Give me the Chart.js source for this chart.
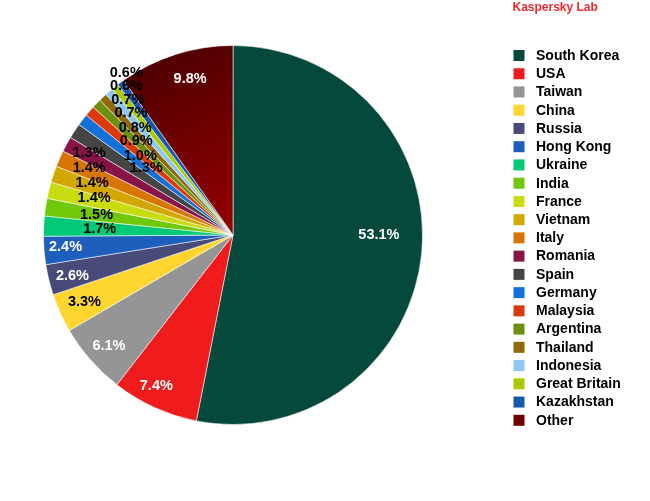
<!DOCTYPE html>
<html>
<head>
<meta charset="utf-8">
<script src="https://cdn.jsdelivr.net/npm/chart.js@4"></script>
<style>
  html, body { margin: 0; padding: 0; background: #fff; }
  #wrap { width: 650px; height: 501px; }
</style>
</head>
<body>
<div id="wrap"><canvas id="pie"></canvas></div>
<script>
// data
const countries = ['South Korea', 'USA', 'Taiwan', 'China', 'Russia', 'Hong Kong', 'Ukraine', 'India',
  'France', 'Vietnam', 'Italy', 'Romania', 'Spain', 'Germany', 'Malaysia', 'Argentina', 'Thailand',
  'Indonesia', 'Great Britain', 'Kazakhstan', 'Other'];
const shares = [53.1, 7.4, 6.1, 3.3, 2.6, 2.4, 1.7, 1.5, 1.4, 1.4, 1.4, 1.3, 1.3, 1.0, 0.9, 0.8, 0.7,
  0.7, 0.6, 0.6, 9.8];
const titleText = 'Kaspersky Lab';

// colours of the slices
const sliceColors = ['#05493c', '#f01b1c', '#959595', '#fed62f', '#484a7a', '#1e5fbe', '#02c977',
  '#71c80a', '#c9dc10', '#d1a700', '#d77500', '#881349', '#454545', '#1270d8', '#dc3a0b', '#6c8f0e',
  '#906a08', '#8fc6f2', '#a9c900', '#1659ad', '#700000'];
// labels that sit on a light slice use black text
const darkText = [false, false, false, true, false, false, true, true, true, true, true, true, true,
  true, true, true, true, true, true, true, false];

const FONT = '"Liberation Sans", Arial, sans-serif';

// where each percent label sits: part of the radius, and a small turn in degrees (Excel moved them apart)
const labelRadius = [0.77, 0.895, 0.88, 0.86, 0.875, 0.886, 0.704, 0.728, 0.758, 0.792, 0.837, 0.874,
  0.58, 0.644, 0.711, 0.764, 0.838, 0.905, 0.968, 1.024, 0.855];
const labelTurn = [-5.4, 2.4, -0.7, 0, -0.8, 0.6, 0, 0, 1.1, 1.4, 1.2, 1, 4.5, 3.1, 3.2, 3.6, 3.4, 3,
  3, 3, 2.3];

const percentLabels = {
  id: 'percentLabels',
  afterDatasetsDraw(chart) {
    const ctx = chart.ctx;
    const meta = chart.getDatasetMeta(0);
    ctx.save();
    ctx.font = 'bold 14.5px ' + FONT;
    ctx.textAlign = 'center';
    ctx.textBaseline = 'middle';
    meta.data.forEach((arc, i) => {
      const p = arc.getProps(['x', 'y', 'startAngle', 'endAngle', 'outerRadius'], true);
      const mid = (p.startAngle + p.endAngle) / 2 + labelTurn[i] * Math.PI / 180;
      const r = p.outerRadius * labelRadius[i];
      ctx.fillStyle = darkText[i] ? '#000' : '#fff';
      ctx.fillText(shares[i].toFixed(1) + '%', p.x + Math.cos(mid) * r, p.y + Math.sin(mid) * r);
    });
    ctx.restore();
  }
};

// legend and title on the right, drawn from the chart data
const sideLegend = {
  id: 'sideLegend',
  afterDraw(chart) {
    const ctx = chart.ctx;
    const colors = chart.data.datasets[0].legendColors;
    ctx.save();
    ctx.font = 'bold 12px ' + FONT;
    ctx.fillStyle = '#ee2a2d';
    ctx.textBaseline = 'middle';
    ctx.fillText(titleText, 512.5, 8);

    ctx.font = 'bold 14px ' + FONT;
    chart.data.labels.forEach((name, i) => {
      const cy = 56 + i * 18.24;
      ctx.fillStyle = colors[i];
      ctx.fillRect(513.5, cy - 6, 11, 11);
      ctx.fillStyle = '#000';
      ctx.fillText(name, 536, cy);
    });
    ctx.restore();
  }
};

function sliceFill(context) {
  const i = context.dataIndex;
  const area = context.chart.chartArea;
  if (i !== countries.length - 1 || !area) return sliceColors[i];
  const cx = (area.left + area.right) / 2;
  const cy = (area.top + area.bottom) / 2;
  const r = Math.min(area.right - area.left, area.bottom - area.top) / 2;
  const g = context.chart.ctx.createLinearGradient(cx - r * 0.45, cy - r, cx, cy);
  g.addColorStop(0, '#4a0000');
  g.addColorStop(1, '#960000');
  return g;
}

window.addEventListener('load', function () {
  const ctx = document.getElementById('pie').getContext('2d');
  new Chart(ctx, {
    type: 'pie',
    data: {
      labels: countries,
      datasets: [{
        data: shares,
        backgroundColor: sliceFill,
        legendColors: sliceColors,
        borderColor: 'rgba(255,255,255,0.55)',
        borderWidth: 1
      }]
    },
    options: {
      responsive: true,
      maintainAspectRatio: false,
      animation: false,
      layout: { padding: { left: 43, right: 227, top: 45, bottom: 76 } },
      plugins: {
        legend: { display: false },
        tooltip: { enabled: false }
      }
    },
    plugins: [percentLabels, sideLegend]
  });
});
</script>
</body>
</html>
